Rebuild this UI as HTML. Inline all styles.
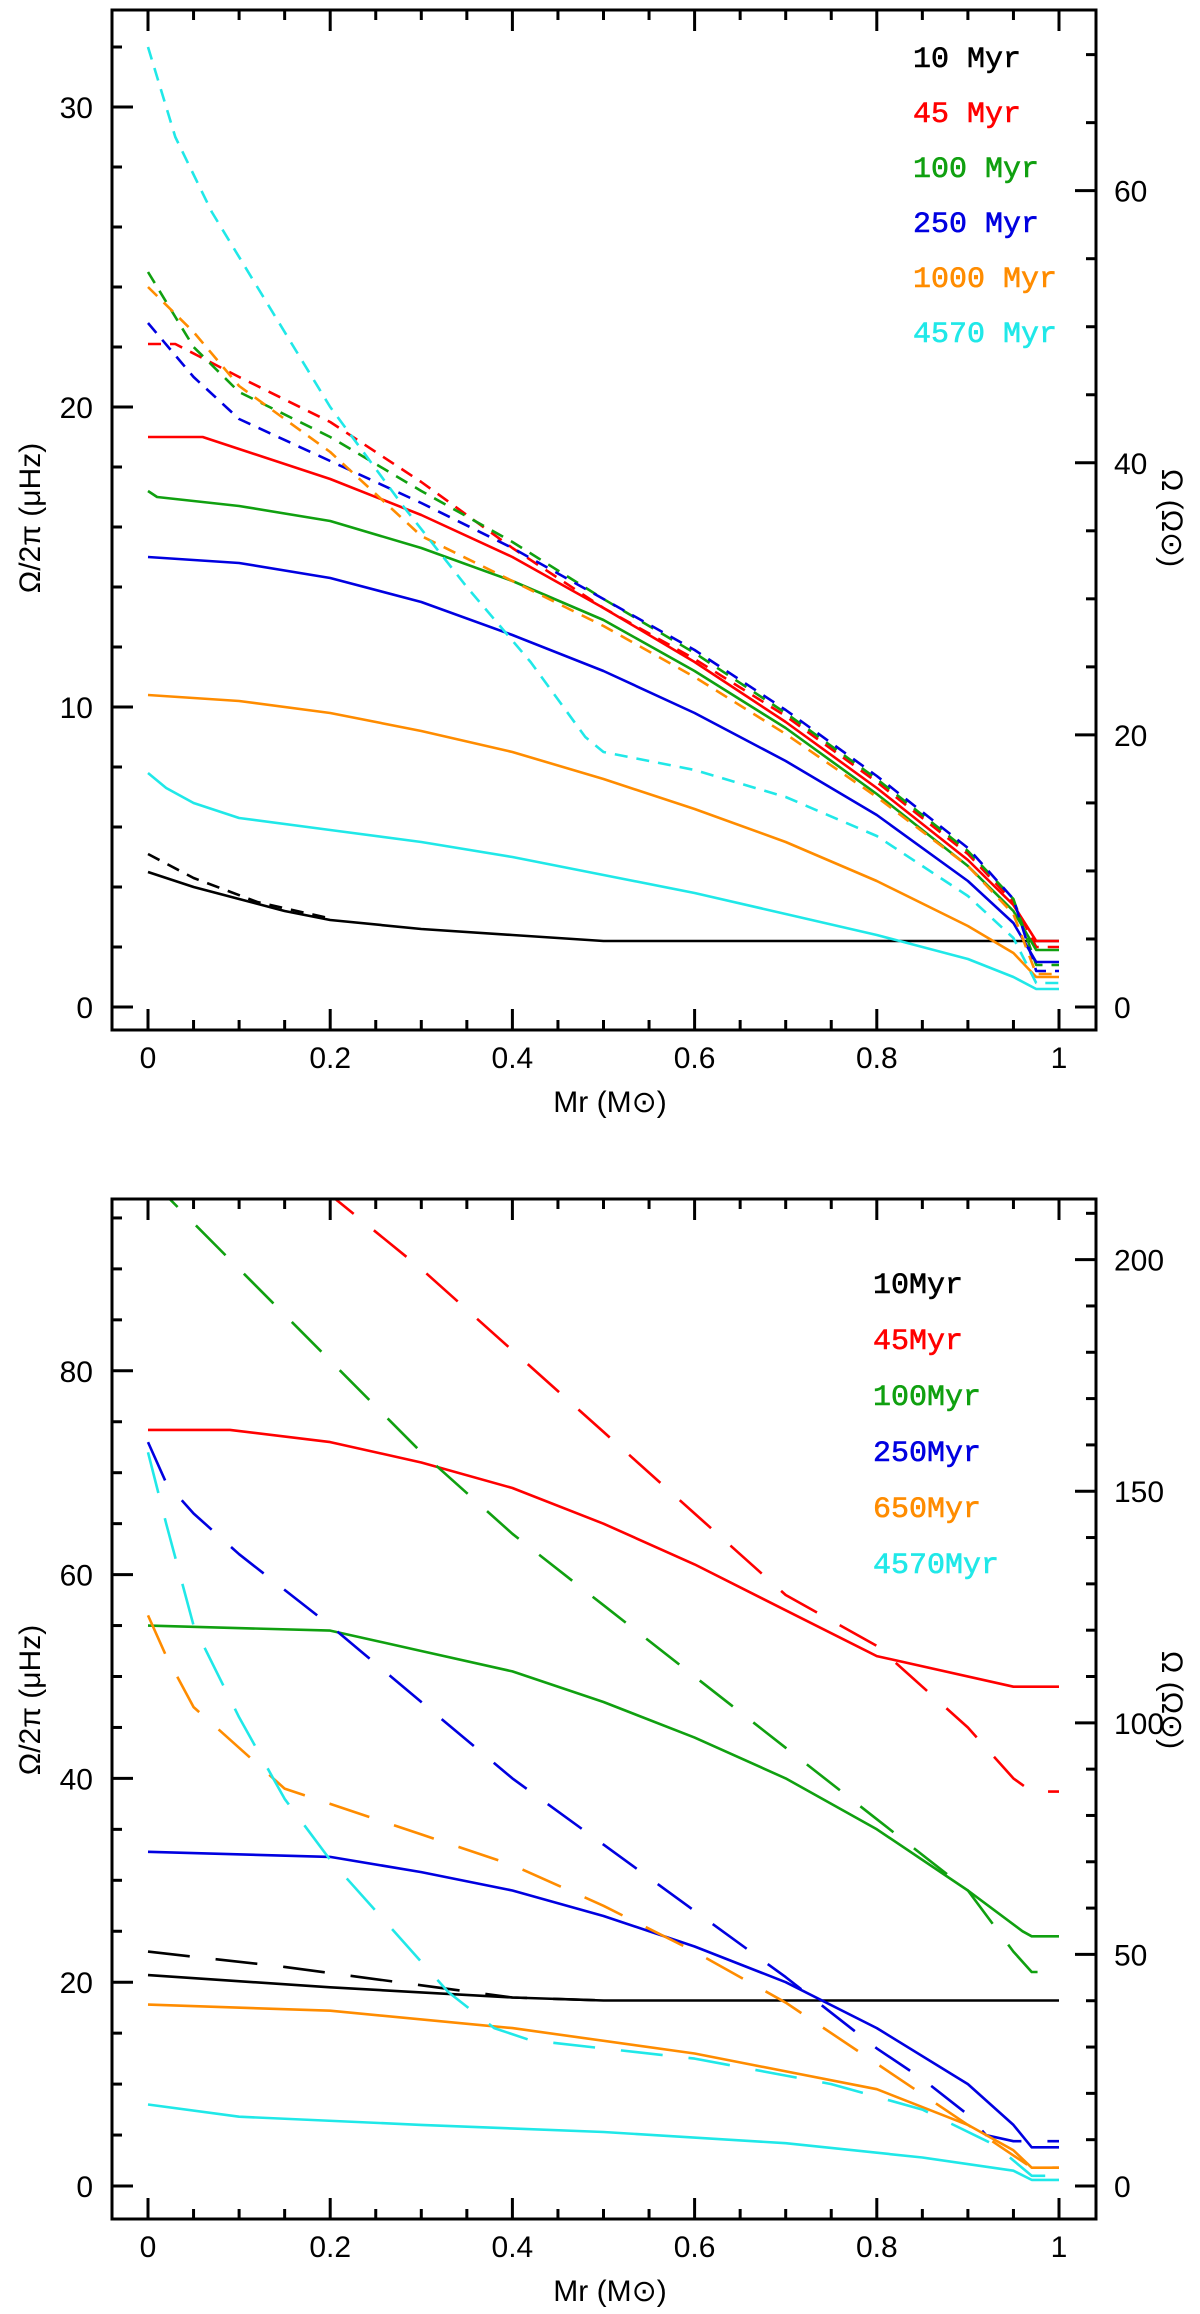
<!DOCTYPE html>
<html><head><meta charset="utf-8"><style>
html,body{margin:0;padding:0;background:#fff;}
svg{display:block;}
text{font-family:"Liberation Sans",sans-serif;}
.tk{font-size:30px;fill:#000;}
.lg{font-family:"Liberation Mono",monospace;font-size:30px;font-weight:normal;}
</style></head><body>
<svg id="chart" width="1200" height="2314" viewBox="0 0 1200 2314" xmlns="http://www.w3.org/2000/svg"></svg>
<script>
// ---------- data ----------
const colors = ["#000000","#ff0000","#10a010","#0000e0","#ff8c00","#20e8e8"];
const topAges = ["10 Myr","45 Myr","100 Myr","250 Myr","1000 Myr","4570 Myr"];
const botAges = ["10Myr","45Myr","100Myr","250Myr","650Myr","4570Myr"];
const topYTicks = [0,10,20,30];
const topRTicks = [0,20,40,60];
const botYTicks = [0,20,40,60,80];
const botRTicks = [0,50,100,150,200];
const xTicks = [0,0.2,0.4,0.6,0.8,1];
const xTickLabels = ["0","0.2","0.4","0.6","0.8","1"];

// top panel solid
const topSolidX = [
 [0,0.05,0.1,0.15,0.2,0.3,0.4,0.5,0.6,0.7,0.8,0.9,0.97,1],
 [0,0.06,0.1,0.2,0.3,0.4,0.5,0.6,0.7,0.8,0.9,0.95,0.975,1],
 [0,0.01,0.1,0.2,0.3,0.4,0.5,0.6,0.7,0.8,0.9,0.95,0.975,1],
 [0,0.1,0.2,0.3,0.4,0.5,0.6,0.7,0.8,0.9,0.95,0.975,1],
 [0,0.1,0.2,0.3,0.4,0.5,0.6,0.7,0.8,0.9,0.95,0.975,1],
 [0,0.02,0.05,0.1,0.2,0.3,0.4,0.5,0.6,0.7,0.8,0.9,0.95,0.975,1]];
const topSolidY = [
 [4.5,4.0,3.6,3.2,2.9,2.6,2.4,2.2,2.2,2.2,2.2,2.2,2.2,2.2],
 [19,19,18.6,17.6,16.4,15,13.3,11.5,9.5,7.3,4.9,3.4,2.2,2.2],
 [17.2,17,16.7,16.2,15.3,14.2,12.9,11.2,9.3,7.1,4.7,3.2,1.9,1.9],
 [15,14.8,14.3,13.5,12.4,11.2,9.8,8.2,6.4,4.2,2.8,1.5,1.5],
 [10.4,10.2,9.8,9.2,8.5,7.6,6.6,5.5,4.2,2.7,1.8,1.0,1.0],
 [7.8,7.3,6.8,6.3,5.9,5.5,5.0,4.4,3.8,3.1,2.4,1.6,1.0,0.6,0.6]];
// top panel dashed
const topDashX = [
 [0,0.05,0.12,0.2],
 [0,0.03,0.1,0.2,0.3,0.4,0.5,0.6,0.7,0.8,0.9,0.95,0.975,1],
 [0,0.05,0.1,0.2,0.3,0.4,0.5,0.6,0.7,0.8,0.9,0.95,0.975,1],
 [0,0.05,0.1,0.2,0.3,0.4,0.5,0.6,0.7,0.8,0.9,0.95,0.975,1],
 [0,0.05,0.1,0.2,0.3,0.4,0.5,0.6,0.7,0.8,0.9,0.95,0.975,1],
 [0,0.03,0.07,0.13,0.2,0.28,0.35,0.42,0.48,0.5,0.6,0.7,0.8,0.9,0.95,0.975,1]];
const topDashY = [
 [5.1,4.3,3.5,2.95],
 [22.1,22.1,21,19.5,17.5,15.3,13.3,11.6,9.7,7.5,5.1,3.5,2.0,2.0],
 [24.5,22,20.5,19,17.2,15.5,13.6,11.8,9.8,7.6,5.2,3.6,1.4,1.4],
 [22.8,21,19.6,18.2,16.8,15.3,13.6,11.9,9.9,7.7,5.3,3.6,1.2,1.2],
 [24,22.5,20.7,18.5,15.7,14.2,12.7,11,9.1,7,4.7,3.1,1.1,1.1],
 [32,29,26.5,23.5,20,16.7,14,11.5,9,8.5,7.9,7,5.7,3.7,2.3,0.8,0.8]];
// bottom panel solid
const botSolidX = [
 [0,0.2,0.4,0.5,0.6,0.8,1],
 [0,0.09,0.2,0.3,0.4,0.5,0.6,0.7,0.8,0.95,1],
 [0,0.2,0.3,0.4,0.5,0.6,0.7,0.8,0.9,0.96,0.97,1],
 [0,0.2,0.3,0.4,0.5,0.6,0.7,0.8,0.9,0.95,0.97,1],
 [0,0.2,0.4,0.6,0.8,0.9,0.95,0.97,1],
 [0,0.1,0.3,0.5,0.7,0.85,0.95,0.97,1]];
const botSolidY = [
 [20.7,19.5,18.5,18.2,18.2,18.2,18.2],
 [74.2,74.2,73,71,68.5,65,61,56.5,52,49,49],
 [55,54.5,52.5,50.5,47.5,44,40,35,29,25,24.5,24.5],
 [32.8,32.3,30.8,29,26.5,23.5,20,15.5,10,6,3.8,3.8],
 [17.8,17.2,15.5,13,9.5,6,3.5,1.8,1.8],
 [8,6.8,6,5.3,4.2,2.8,1.5,0.6,0.6]];
// bottom panel dashed
const botDashX = [
 [0,0.15,0.3,0.4,0.5],
 [0.19,0.3,0.4,0.5,0.6,0.7,0.8,0.9,0.95,0.97,1],
 [0,0.1,0.2,0.3,0.4,0.5,0.6,0.7,0.8,0.9,0.95,0.97,0.99],
 [0,0.02,0.05,0.1,0.2,0.3,0.4,0.5,0.6,0.7,0.8,0.85,0.9,0.92,0.95,1],
 [0,0.02,0.05,0.1,0.15,0.2,0.3,0.4,0.5,0.6,0.7,0.8,0.9,0.95,0.97,1],
 [0,0.02,0.05,0.1,0.15,0.2,0.27,0.33,0.38,0.42,0.6,0.75,0.85,0.93,0.97,1]];
const botDashY = [
 [23,21.5,19.7,18.5,18.2],
 [98,90,82,74,66,58,53,45,40,38.7,38.7],
 [99,90,81,72,64,57,50,43,36,29,23,21,21],
 [73,69,66,62,55,47.5,40,33.5,27,20.5,13.5,10.5,7,5,4.4,4.4],
 [56,52,47,43,39,37.5,34.5,31.5,27.5,23,18,12,6,3,1.8,1.8],
 [72,65,55,46,38,32,25,19,15.5,14.3,12.5,10,7.5,4,1,1]];

// ---------- layout ----------
const NS="http://www.w3.org/2000/svg";
const svg=document.getElementById('chart');
function mk(tag,attrs,parent){const e=document.createElementNS(NS,tag);for(const k in attrs)e.setAttribute(k,attrs[k]);(parent||svg).appendChild(e);return e;}
const X0=148, X1=1059, L=112, R=1096;
function sx(v){return X0+(X1-X0)*v;}

function panel(cfg){
  const g=mk('g',{});
  
  
  const sy=v=>cfg.y0-cfg.pxPer*v;
  const ry=v=>cfg.y0-cfg.pxPer*v/cfg.ratio;
  const cid=cfg.name+'-clip';
  const cp=mk('clipPath',{id:cid},g); mk('rect',{x:L,y:cfg.top,width:R-L,height:cfg.bot-cfg.top},cp);
  const curves=mk('g',{'clip-path':'url(#'+cid+')'},g);
  
  
  function line(xs,ys,col,dash,nm){
    let d='';for(let i=0;i<xs.length;i++)d+=(i?'L':'M')+sx(xs[i]).toFixed(1)+' '+sy(ys[i]).toFixed(1);
    const p=mk('path',{d:d,fill:'none',stroke:col,'stroke-width':2.6,'stroke-dasharray':dash||'none','stroke-linejoin':'round'},curves);
    
    
  }
  for(let i=0;i<6;i++){
    line(cfg.sX[i],cfg.sY[i],colors[i],null,'solid-'+cfg.labels[i].replace(/\s/g,'').toLowerCase());
    line(cfg.dX[i],cfg.dY[i],colors[i],cfg.dash,'dashed-'+cfg.labels[i].replace(/\s/g,'').toLowerCase());
  }
  const fr=mk('rect',{x:L,y:cfg.top,width:R-L,height:cfg.bot-cfg.top,fill:'none',stroke:'#000','stroke-width':3},g);
  
  
  const tg=mk('g',{stroke:'#000','stroke-width':3},g);
  
  
  for(let k=0;k<=20;k++){const v=k*0.05;const len=(k%4===0)?21:10;const x=sx(v);
    mk('line',{x1:x,y1:cfg.bot,x2:x,y2:cfg.bot-len},tg);mk('line',{x1:x,y1:cfg.top,x2:x,y2:cfg.top+len},tg);}
  xTicks.forEach((v,i)=>{const t=mk('text',{x:sx(v),y:cfg.bot+38,'text-anchor':'middle',class:'tk'},g);t.textContent=xTickLabels[i];
    
    });
  for(let v=0;sy(v)>=cfg.top;v+=cfg.lMinor){const major=Math.abs(v/cfg.lMajor-Math.round(v/cfg.lMajor))<1e-6;
    mk('line',{x1:L,y1:sy(v),x2:L+(major?21:10),y2:sy(v)},tg);}
  cfg.lTicks.forEach(v=>{const t=mk('text',{x:93,y:sy(v)+11,'text-anchor':'end',class:'tk'},g);t.textContent=v;
    
    });
  for(let v=0;ry(v)>=cfg.top;v+=cfg.rMinor){const major=Math.abs(v/cfg.rMajor-Math.round(v/cfg.rMajor))<1e-6;
    mk('line',{x1:R,y1:ry(v),x2:R-(major?21:10),y2:ry(v)},tg);}
  cfg.rTicks.forEach(v=>{const t=mk('text',{x:1114,y:ry(v)+11,'text-anchor':'start',class:'tk'},g);t.textContent=v;
    
    });
  const yt=mk('text',{x:0,y:0,'text-anchor':'middle',class:'tk',transform:'translate(40,'+cfg.ymid+') rotate(-90)'},g);
  yt.textContent='Ω/2π  (μHz)';
  
  
  const rt=mk('text',{x:0,y:0,'text-anchor':'middle',class:'tk',transform:'translate(1162,'+cfg.ymid+') rotate(90)'},g);
  rt.textContent='Ω (Ω⊙)';
  
  
  const xt=mk('text',{x:610,y:cfg.bot+82,'text-anchor':'middle',class:'tk'},g);
  xt.textContent='Mr  (M⊙)';
  
  
  const lg=mk('g',{},g);
  
  
  cfg.labels.forEach((s,i)=>{const t=mk('text',{x:cfg.lx,y:cfg.ly+i*cfg.lstep,class:'lg',fill:colors[i],stroke:colors[i],'stroke-width':0.6},lg);t.textContent=s;
    
    });
}

panel({name:'top-panel',top:10,bot:1030,y0:1007,pxPer:30,ratio:2.205,lMinor:2,lMajor:10,rMinor:5,rMajor:20,
  lTicks:topYTicks,rTicks:topRTicks,ymid:518,labels:topAges,lx:913,ly:67,lstep:55,
  sX:topSolidX,sY:topSolidY,dX:topDashX,dY:topDashY,dash:'13 9'});
panel({name:'bottom-panel',top:1199,bot:2219,y0:2186,pxPer:10.19,ratio:2.2,lMinor:5,lMajor:20,rMinor:10,rMajor:50,
  lTicks:botYTicks,rTicks:botRTicks,ymid:1700,labels:botAges,lx:873,ly:1293,lstep:56,
  sX:botSolidX,sY:botSolidY,dX:botDashX,dY:botDashY,dash:'42 26'});
</script>
</body></html>
